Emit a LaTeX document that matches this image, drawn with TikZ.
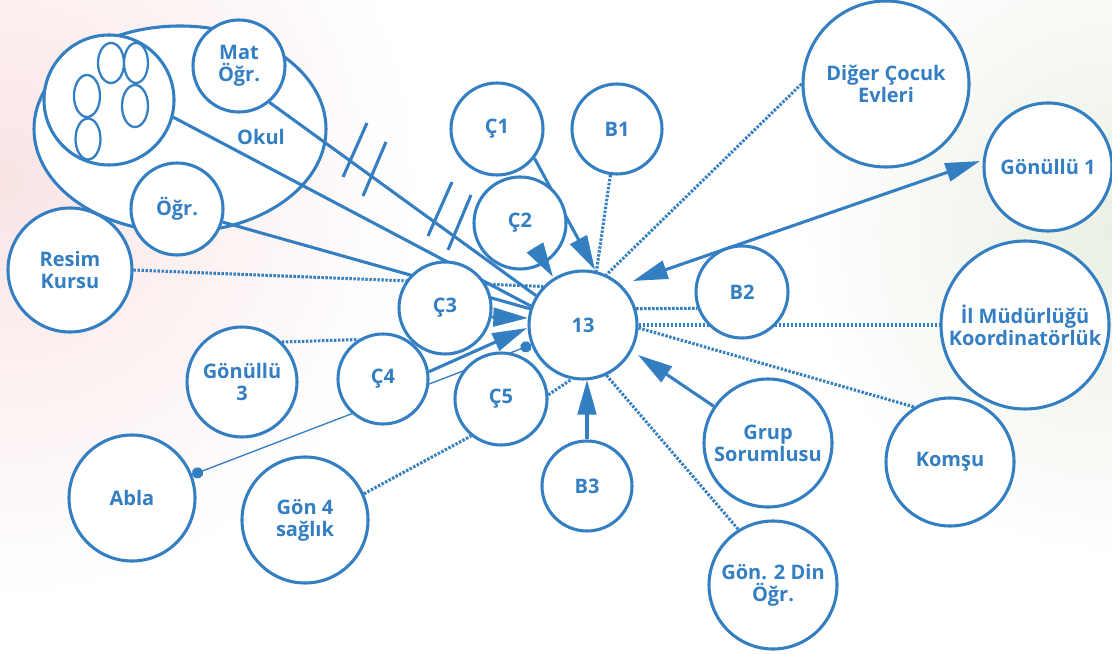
\documentclass[tikz,border=0pt]{standalone}
\usepackage{fontspec}
\newfontfamily\nf{Open Sans}
\usetikzlibrary{arrows.meta,calc}
\definecolor{myblue}{RGB}{52,126,194}
\definecolor{pinkbg}{RGB}{250,228,228}
\definecolor{greenbg}{RGB}{234,240,227}
\pgfdeclarelayer{bg}
\pgfdeclarelayer{lines}
\pgfsetlayers{bg,lines,main}
\begin{document}
\begin{tikzpicture}[x=0.75pt,y=-0.75pt,
  nd/.style={circle,draw=myblue,line width=2.3pt,fill=white,inner sep=0pt,align=center,
    text=myblue,font=\nf\bfseries\fontsize{15}{16.5}\selectfont,minimum size=#1*1.5pt},
  ln/.style={draw=myblue,line width=2.3pt},
  dl/.style={draw=myblue,line width=2.3pt,dash pattern=on 1.8pt off 1.2pt},
  ar/.style={ln,-{Triangle[length=26pt,width=14pt]}},
  dar/.style={ln,{Triangle[length=26pt,width=14pt]}-{Triangle[length=26pt,width=14pt]}},
  thinl/.style={draw=myblue,line width=1pt,{Circle[length=8.5pt]}-{Circle[length=8.5pt]}},
  hash/.style={draw=myblue,line width=2.3pt},
  sm/.style={draw=myblue,line width=1.7pt,fill=white},
  lbl/.style={text=myblue,font=\nf\bfseries\fontsize{15}{16.5}\selectfont}
]
\useasboundingbox (0,0) rectangle (1112,655);

% nodes
\node[nd=46] (mat) at (239,66) {Mat\\Öğr.};
\node[nd=65] (inner) at (109,100) {};
\node[nd=46] (ogr) at (177,209) {Öğr.};
\node[nd=62] (resim) at (70,270) {Resim\\Kursu};
\node[nd=46] (c1) at (497,129) {Ç1};
\node[nd=45] (b1) at (617,129) {B1};
\node[nd=46] (c2) at (520,223) {Ç2};
\node[nd=54] (c13) at (583,325) {13};
\node[nd=46] (c3) at (445,308) {Ç3};
\node[nd=45] (c4) at (383,379) {Ç4};
\node[nd=46] (c5) at (501,399) {Ç5};
\node[nd=55] (g3) at (242,382) {Gönüllü\\3};
\node[nd=63] (abla) at (132,498) {Abla};
\node[nd=63] (g4) at (305,520) {Gön 4\\sağlık};
\node[nd=45] (b3) at (587,486) {B3};
\node[nd=83] (diger) at (886,84) {Diğer Çocuk\\Evleri};
\node[nd=64] (g1) at (1048,167) {Gönüllü 1};
\node[nd=46] (b2) at (742,292) {B2};
\node[nd=84] (il) at (1025,325) {İl Müdürlüğü\\Koordinatörlük};
\node[nd=64] (grup) at (768,443) {Grup\\Sorumlusu};
\node[nd=64] (komsu) at (950,462) {Komşu};
\node[nd=64] (g2) at (773,585) {Gön. 2 Din\\Öğr.};

% small ellipses inside the class circle
\draw[sm] (111,63) ellipse [x radius=13, y radius=20];
\draw[sm] (136,63) ellipse [x radius=12, y radius=20];
\draw[sm] (87,96) ellipse [x radius=13, y radius=21];
\draw[sm] (135,106) ellipse [x radius=13, y radius=21];
\draw[sm] (88,139) ellipse [x radius=12.5, y radius=20.5];

% tip coordinates
\coordinate (tA) at ($(c13)+(50,-44)$);
\coordinate (tB) at ($(g1)+(-68,-6)$);
\coordinate (tG) at ($(c13)+(55,30)$);
\coordinate (tB3) at ($(c13)+(4,55)$);
\coordinate (tC1) at ($(c13)+(12,-55)$);
\coordinate (tC2) at ($(c13)+(-30,-48)$);
\coordinate (tC3) at ($(c13)+(-55,-7)$);
\coordinate (tC4) at ($(c13)+(-56,3)$);

\begin{pgfonlayer}{bg}
  \fill[white] (0,0) rectangle (1112,655);
  \shade[inner color=pinkbg, outer color=white] (-420,-240) rectangle (420,600);
  \shade[inner color=greenbg, outer color=white] (800,-100) rectangle (1424,560);
  \draw[myblue,line width=2.3pt,fill=white] (180,129) ellipse [x radius=146, y radius=103];
  \node[lbl] (okul) at (261,137) {Okul};
\end{pgfonlayer}

\begin{pgfonlayer}{lines}
  % solid lines from the school
  \draw[ln] (mat.-50) -- (c13.148);
  \draw[ln] (inner.-15) -- (c13.160);
  \draw[ln] (ogr.-16) -- (c13.163);
  % hash marks
  \draw[hash] (367,123) -- (343,177);
  \draw[hash] (386,142) -- (363,196);
  \draw[hash] (452,182) -- (428,236);
  \draw[hash] (471,195) -- (448,250);
  % dotted lines
  \draw[dl] (resim.east) -- (c13.136);
  \draw[dl] (b1) -- (c13.76);
  \draw[dl] (diger.west) -- (c13.65);
  \draw[dl] (c13.17) -- (b2.200);
  \draw[dl] (c13) -- (il);
  \draw[dl] (c13.-3) -- (komsu.123);
  \draw[dl] (c13.295) -- (g2.122);
  \draw[dl] (c5.5) -- (c13.258);
  \draw[dl] (g4.24) -- (c5.231);
  \draw[dl] (g3.45) -- (c4.122);
  % arrows
  \draw[ar] (c1.-38) -- (tC1);
  \draw[ar] (c3.-11) -- (tC3);
  \draw[ar] (c4.9) -- (tC4);
  \draw[ar] (grup) -- (tG);
  \draw[ar] (b3) -- (tB3);
  \draw[dar] (tA) -- (tB);
  % thin line with dots
  \draw[thinl] (abla) -- (c13);
\end{pgfonlayer}

\draw[ar] ($(tC2)!26pt!(c2)$) -- (tC2);
\end{tikzpicture}
\end{document}
